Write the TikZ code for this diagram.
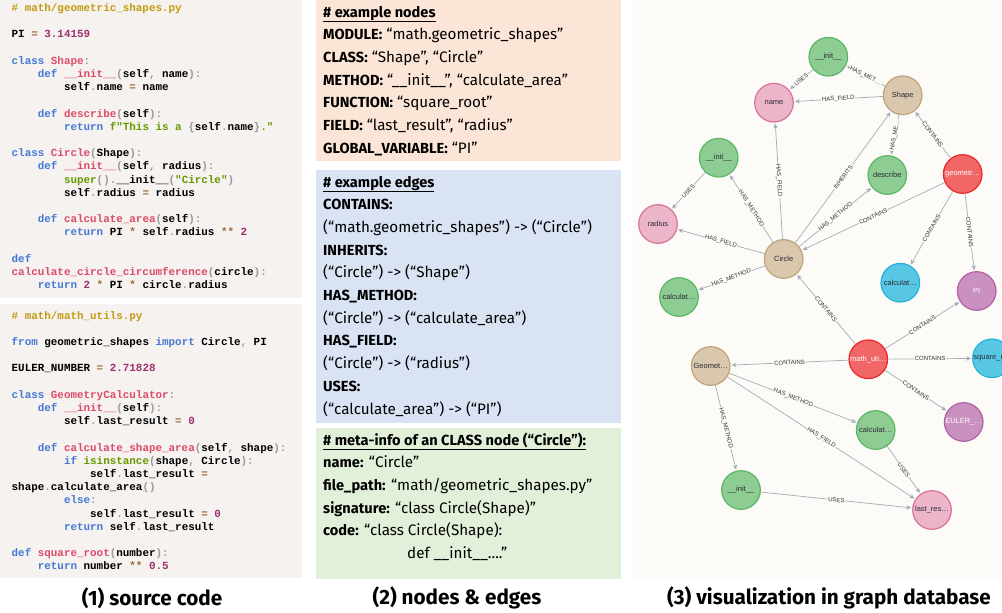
\documentclass[tikz,border=0pt]{standalone}
\usepackage{fontspec}
\usetikzlibrary{arrows.meta}
\newfontfamily\codefont{Liberation Mono}
\newfontfamily\uifont{Fira Sans}
\newfontfamily\graphfont{Liberation Sans}
\definecolor{codebg}{HTML}{F5F2F0}
\definecolor{peachbg}{HTML}{FBE5D6}
\definecolor{bluebg}{HTML}{DAE3F3}
\definecolor{greenbg}{HTML}{E2F0D9}
\definecolor{graphbg}{HTML}{FCFBF8}
\definecolor{ckw}{HTML}{4479D4}
\definecolor{cfn}{HTML}{DD4A68}
\definecolor{cnum}{HTML}{9E2F6E}
\definecolor{cop}{HTML}{9A6E3A}
\definecolor{cstr}{HTML}{669900}
\definecolor{cpun}{HTML}{999999}
\definecolor{ccom}{HTML}{C49A12}
\definecolor{gline}{HTML}{A5ABB6}
\definecolor{glabel}{HTML}{333333}
\definecolor{gtext}{HTML}{2A2C34}
\definecolor{greenF}{HTML}{8DCC93}\definecolor{greenS}{HTML}{5DB665}
\definecolor{pinkF}{HTML}{ECB5C9}\definecolor{pinkS}{HTML}{DA7298}
\definecolor{tanF}{HTML}{D9C8AE}\definecolor{tanS}{HTML}{C0A378}
\definecolor{redF}{HTML}{F16667}\definecolor{redS}{HTML}{EB2728}
\definecolor{blueF}{HTML}{57C7E3}\definecolor{blueS}{HTML}{23B3D7}
\definecolor{purpF}{HTML}{C990C0}\definecolor{purpS}{HTML}{B261A5}
\newcommand\cdK[1]{\textcolor{ckw}{#1}}
\newcommand\cdF[1]{\textcolor{cfn}{#1}}
\newcommand\cdN[1]{\textcolor{cnum}{#1}}
\newcommand\cdO[1]{\textcolor{cop}{#1}}
\newcommand\cdS[1]{\textcolor{cstr}{#1}}
\newcommand\cdP[1]{\textcolor{cpun}{#1}}
\newcommand\cdC[1]{\textcolor{ccom}{#1}}
\newcommand\cdIA{\phantom{xxxx}}
\newcommand\cdIB{\phantom{xxxxxxxx}}
\newcommand\cdIC{\phantom{xxxxxxxxxxxx}}
\newcommand\mdB[1]{{\fontsize{14.6}{22.7}\selectfont\bfseries #1}}
\tikzset{
  codetext/.style={anchor=base west, inner sep=0pt, font=\codefont\bfseries\fontsize{10.9}{13.2}\selectfont},
  midtext/.style={anchor=base west, inner sep=0pt, font=\uifont\fontsize{15.2}{22.7}\selectfont, text=black},
  captext/.style={inner sep=0pt, font=\uifont\bfseries\fontsize{20.7}{24}\selectfont},
  gnode/.style={circle, minimum size=38.6pt, inner sep=0pt, line width=1.2pt, font=\graphfont\fontsize{7.5}{9}\selectfont, text=gtext},
  ngreen/.style={gnode, fill=greenF, draw=greenS},
  npink/.style={gnode, fill=pinkF, draw=pinkS},
  ntan/.style={gnode, fill=tanF, draw=tanS},
  nred/.style={gnode, fill=redF, draw=redS, text=white},
  nblue/.style={gnode, fill=blueF, draw=blueS},
  npurple/.style={gnode, fill=purpF, draw=purpS, text=white},
  gedge/.style={draw=gline, line width=0.7pt, -{Stealth[length=5pt,width=4.4pt]}, shorten >=1pt},
  elabel/.style={font=\graphfont\fontsize{6}{7}\selectfont, text=glabel, fill=graphbg, inner sep=0.6pt, sloped, midway}
}
\begin{document}
\begin{tikzpicture}[x=1pt,y=-1pt]
\useasboundingbox (0,0) rectangle (1002,613);
\fill[white] (0,0) rectangle (1002,613);
% panels
\fill[codebg] (0,0) rectangle (302,298);
\fill[codebg] (0,304) rectangle (302,578);
\fill[peachbg] (316,0) rectangle (621,161);
\fill[bluebg] (316,170) rectangle (621,423);
\fill[greenbg] (316,428) rectangle (621,579);
\fill[graphbg] (632,0) rectangle (1002,578);
% code 1
\node[codetext] (code1) at (11.5,11.5) {\begin{tabular}[t]{@{}l@{}}
\cdC{\# math/geometric\_shapes.py}\\
\\
PI \cdO{=} \cdN{3.14159}\\
\\
\cdK{class} \cdF{Shape}\cdP{:}\\
\cdIA\cdK{def} \cdF{\_\_init\_\_}\cdP{(}self\cdP{,} name\cdP{):}\\
\cdIB self\cdP{.}name \cdO{=} name\\
\\
\cdIA\cdK{def} \cdF{describe}\cdP{(}self\cdP{):}\\
\cdIB\cdK{return} \cdS{f"This is a }\cdP{\{}self\cdP{.}name\cdP{\}}\cdS{."}\\
\\
\cdK{class} \cdF{Circle}\cdP{(}Shape\cdP{):}\\
\cdIA\cdK{def} \cdF{\_\_init\_\_}\cdP{(}self\cdP{,} radius\cdP{):}\\
\cdIB\cdS{super}\cdP{().}\_\_init\_\_\cdP{(}\cdS{"Circle"}\cdP{)}\\
\cdIB self\cdP{.}radius \cdO{=} radius\\
\\
\cdIA\cdK{def} \cdF{calculate\_area}\cdP{(}self\cdP{):}\\
\cdIB\cdK{return} PI \cdO{*} self\cdP{.}radius \cdO{**} \cdN{2}\\
\\
\cdK{def}\\
\cdF{calculate\_circle\_circumference}\cdP{(}circle\cdP{):}\\
\cdIA\cdK{return} \cdN{2} \cdO{*} PI \cdO{*} circle\cdP{.}radius
\end{tabular}};
% code 2
\node[codetext] (code2) at (11.5,319) {\begin{tabular}[t]{@{}l@{}}
\cdC{\# math/math\_utils.py}\\
\\
\cdK{from} geometric\_shapes \cdK{import} Circle\cdP{,} PI\\
\\
EULER\_NUMBER \cdO{=} \cdN{2.71828}\\
\\
\cdK{class} \cdF{GeometryCalculator}\cdP{:}\\
\cdIA\cdK{def} \cdF{\_\_init\_\_}\cdP{(}self\cdP{):}\\
\cdIB self\cdP{.}last\_result \cdO{=} \cdN{0}\\
\\
\cdIA\cdK{def} \cdF{calculate\_shape\_area}\cdP{(}self\cdP{,} shape\cdP{):}\\
\cdIB\cdK{if} \cdS{isinstance}\cdP{(}shape\cdP{,} Circle\cdP{):}\\
\cdIC self\cdP{.}last\_result \cdO{=}\\
shape\cdP{.}calculate\_area\cdP{()}\\
\cdIB\cdK{else}\cdP{:}\\
\cdIC self\cdP{.}last\_result \cdO{=} \cdN{0}\\
\cdIB\cdK{return} self\cdP{.}last\_result\\
\\
\cdK{def} \cdF{square\_root}\cdP{(}number\cdP{):}\\
\cdIA\cdK{return} number \cdO{**} \cdN{0.5}
\end{tabular}};
% middle panels
\node[midtext] (nodesinfo) at (323,17) {\begin{tabular}[t]{@{}l@{}}
\underline{\mdB{\# example nodes}}\\
\mdB{MODULE:} “math.geometric\_shapes”\\
\mdB{CLASS:} “Shape”, “Circle”\\
\mdB{METHOD:} “\_\_init\_\_”, “calculate\_area”\\
\mdB{FUNCTION:} “square\_root”\\
\mdB{FIELD:} “last\_result”, “radius”\\
\mdB{GLOBAL\_VARIABLE:} “PI”
\end{tabular}};
\node[midtext] (edgesinfo) at (323,187) {\begin{tabular}[t]{@{}l@{}}
\underline{\mdB{\# example edges}}\\
\mdB{CONTAINS:}\\
(“math.geometric\_shapes”) -> (“Circle”)\\
\mdB{INHERITS:}\\
(“Circle”) -> (“Shape”)\\
\mdB{HAS\_METHOD:}\\
(“Circle”) -> (“calculate\_area”)\\
\mdB{HAS\_FIELD:}\\
(“Circle”) -> (“radius”)\\
\mdB{USES:}\\
(“calculate\_area”) -> (“PI”)
\end{tabular}};
\node[midtext] (metainfo) at (323,445) {\begin{tabular}[t]{@{}l@{}}
\underline{\mdB{\# meta-info of an CLASS node (“Circle”):}}\\
\mdB{name:} “Circle”\\
\mdB{file\_path:} “math/geometric\_shapes.py”\\
\mdB{signature:} “class Circle(Shape)”\\
\mdB{code:} “class Circle(Shape):\\
\hspace*{84pt}def \_\_init\_\_....”
\end{tabular}};
% captions
\node[captext] (cap1) at (152,598) {(1) source code};
\node[captext] (cap2) at (457,598) {(2) nodes \& edges};
\node[captext] (cap3) at (829,598) {(3) visualization in graph database};
% graph nodes
\node[ngreen] (init1) at (828.3,56.7) {\_\_init\_\_};
\node[npink] (name) at (774,102.7) {name};
\node[ntan] (shape) at (902.7,95.3) {Shape};
\node[ngreen] (init2) at (718.7,157.7) {\_\_init\_\_};
\node[ngreen] (describe) at (887.3,175) {describe};
\node[nred] (geom) at (962.7,174) {geometr…};
\node[npink] (radius) at (658,224) {radius};
\node[ntan] (circle) at (783.7,259) {Circle};
\node[ngreen] (calcg) at (679,297) {calculat…};
\node[nblue] (calcb) at (900.3,282.7) {calculat…};
\node[npurple] (pi) at (976.7,291) {PI};
\node[ntan] (geomc) at (710.7,366) {Geomet…};
\node[nred] (mathu) at (868.3,359.3) {math\_uti…};
\node[nblue] (sqr) at (992,358.3) {square\_r…};
\node[ngreen] (calcc) at (875.7,430) {calculat…};
\node[npurple] (euler) at (963.7,422) {EULER\_…};
\node[ngreen] (init3) at (741,490) {\_\_init\_\_};
\node[npink] (lastres) at (932,510) {last\_res…};
% graph edges
\draw[gedge] (init1) -- node[elabel]{USES} (name);
\draw[gedge] (shape) -- node[elabel]{HAS\_MET…} (init1);
\draw[gedge] (shape) -- node[elabel]{HAS\_FIELD} (name);
\draw[gedge] (shape) -- node[elabel]{HAS\_ME…} (describe);
\draw[gedge] (geom) -- node[elabel]{CONTAINS} (shape);
\draw[gedge] (init2) -- node[elabel]{USES} (radius);
\draw[gedge] (circle) -- node[elabel]{HAS\_METHOD} (init2);
\draw[gedge] (circle) -- node[elabel]{HAS\_FIELD} (name);
\draw[gedge] (circle) -- node[elabel]{INHERITS} (shape);
\draw[gedge] (circle) -- node[elabel]{HAS\_METHOD} (describe);
\draw[gedge] (geom) -- node[elabel]{CONTAINS} (circle);
\draw[gedge] (circle) -- node[elabel]{HAS\_FIELD} (radius);
\draw[gedge] (circle) -- node[elabel]{HAS\_METHOD} (calcg);
\draw[gedge] (geom) -- node[elabel]{CONTAINS} (calcb);
\draw[gedge] (geom) -- node[elabel]{CONTAINS} (pi);
\draw[gedge] (mathu) -- node[elabel]{CONTAINS} (circle);
\draw[gedge] (mathu) -- node[elabel]{CONTAINS} (pi);
\draw[gedge] (mathu) -- node[elabel]{CONTAINS} (geomc);
\draw[gedge] (mathu) -- node[elabel]{CONTAINS} (sqr);
\draw[gedge] (mathu) -- node[elabel]{CONTAINS} (euler);
\draw[gedge] (geomc) -- node[elabel]{HAS\_METHOD} (calcc);
\draw[gedge] (geomc) -- node[elabel]{HAS\_FIELD} (lastres);
\draw[gedge] (geomc) -- node[elabel]{HAS\_METHOD} (init3);
\draw[gedge] (calcc) -- node[elabel]{USES} (lastres);
\draw[gedge] (init3) -- node[elabel]{USES} (lastres);
\end{tikzpicture}
\end{document}
